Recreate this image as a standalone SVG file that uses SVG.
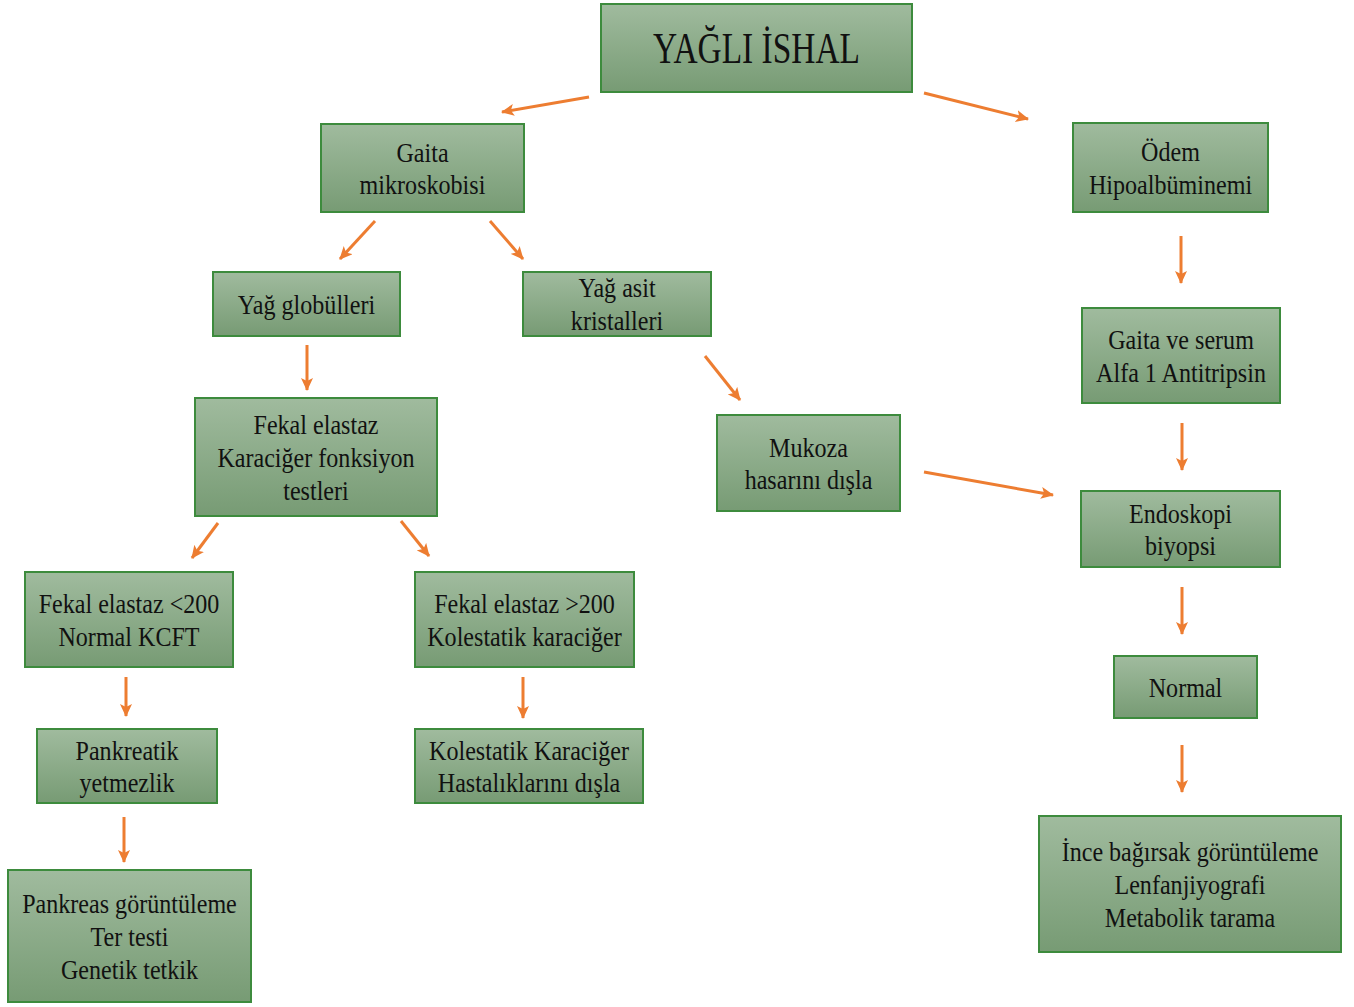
<svg xmlns="http://www.w3.org/2000/svg" width="1354" height="1007" viewBox="0 0 1354 1007">
<style>
.box{fill:url(#g);stroke:#3d8b3d;stroke-width:2}
text{font-family:"Liberation Serif","Times New Roman",serif;font-size:28px;fill:#111;text-anchor:middle}
.t{font-size:44px}
.c line{stroke:#ed7d31;stroke-width:3;marker-end:url(#ah)}
</style>
<defs>
<linearGradient id="g" x1="0" y1="0" x2="0" y2="1">
<stop offset="0" stop-color="#a0bb9e"/>
<stop offset="1" stop-color="#779b74"/>
</linearGradient>
<marker id="ah" markerUnits="userSpaceOnUse" markerWidth="14" markerHeight="12" refX="12" refY="6" orient="auto">
<path d="M0,0 L13,6 L0,12 L3,6 z" fill="#ed7d31"/>
</marker>
</defs>
<rect width="1354" height="1007" fill="#fff"/>
<g class="c" id="connectors">
<line x1="589" y1="97" x2="502" y2="112"/>
<line x1="924" y1="93" x2="1028" y2="119"/>
<line x1="375" y1="221" x2="340" y2="259"/>
<line x1="490" y1="221" x2="523" y2="259"/>
<line x1="307" y1="345" x2="307" y2="390"/>
<line x1="705" y1="356" x2="740" y2="400"/>
<line x1="924" y1="472" x2="1053" y2="495"/>
<line x1="1181" y1="236" x2="1181" y2="283"/>
<line x1="1182" y1="423" x2="1182" y2="470"/>
<line x1="1182" y1="587" x2="1182" y2="634"/>
<line x1="1182" y1="745" x2="1182" y2="792"/>
<line x1="218" y1="523" x2="192" y2="558"/>
<line x1="401" y1="521" x2="429" y2="556"/>
<line x1="126" y1="677" x2="126" y2="716"/>
<line x1="523" y1="677" x2="523" y2="718"/>
<line x1="124" y1="817" x2="124" y2="862"/>
</g>
<g id="n1"><rect class="box" x="601" y="4" width="311" height="88"/>
<text class="t" transform="translate(756.5 63) scale(0.76 1)" x="0" y="0">YAĞLI İSHAL</text></g>
<g id="n2"><rect class="box" x="321" y="124" width="203" height="88"/>
<text transform="translate(422.5 161.5) scale(0.86 1)"><tspan x="0" y="0">Gaita</tspan><tspan x="0" y="33">mikroskobisi</tspan></text></g>
<g id="n3"><rect class="box" x="1073" y="123" width="195" height="89"/>
<text transform="translate(1170.5 161) scale(0.86 1)"><tspan x="0" y="0">Ödem</tspan><tspan x="0" y="33">Hipoalbüminemi</tspan></text></g>
<g id="n4"><rect class="box" x="213" y="272" width="187" height="64"/>
<text transform="translate(306.5 314) scale(0.86 1)" x="0" y="0">Yağ globülleri</text></g>
<g id="n5"><rect class="box" x="523" y="272" width="188" height="64"/>
<text transform="translate(617 297) scale(0.86 1)"><tspan x="0" y="0">Yağ asit</tspan><tspan x="0" y="33">kristalleri</tspan></text></g>
<g id="n6"><rect class="box" x="195" y="398" width="242" height="118"/>
<text transform="translate(316 434) scale(0.86 1)"><tspan x="0" y="0">Fekal elastaz</tspan><tspan x="0" y="33">Karaciğer fonksiyon</tspan><tspan x="0" y="66">testleri</tspan></text></g>
<g id="n7"><rect class="box" x="717" y="415" width="183" height="96"/>
<text transform="translate(808.5 456.5) scale(0.86 1)"><tspan x="0" y="0">Mukoza</tspan><tspan x="0" y="33">hasarını dışla</tspan></text></g>
<g id="n8"><rect class="box" x="1082" y="308" width="198" height="95"/>
<text transform="translate(1181 349) scale(0.86 1)"><tspan x="0" y="0">Gaita ve serum</tspan><tspan x="0" y="33">Alfa 1 Antitripsin</tspan></text></g>
<g id="n9"><rect class="box" x="1081" y="491" width="199" height="76"/>
<text transform="translate(1180.5 522.5) scale(0.86 1)"><tspan x="0" y="0">Endoskopi</tspan><tspan x="0" y="33">biyopsi</tspan></text></g>
<g id="n10"><rect class="box" x="1114" y="656" width="143" height="62"/>
<text transform="translate(1185.5 697) scale(0.86 1)" x="0" y="0">Normal</text></g>
<g id="n11"><rect class="box" x="1039" y="816" width="302" height="136"/>
<text transform="translate(1190 861) scale(0.86 1)"><tspan x="0" y="0">İnce bağırsak görüntüleme</tspan><tspan x="0" y="33">Lenfanjiyografi</tspan><tspan x="0" y="66">Metabolik tarama</tspan></text></g>
<g id="n12"><rect class="box" x="25" y="572" width="208" height="95"/>
<text transform="translate(129 613) scale(0.86 1)"><tspan x="0" y="0">Fekal elastaz &lt;200</tspan><tspan x="0" y="33">Normal KCFT</tspan></text></g>
<g id="n13"><rect class="box" x="415" y="572" width="219" height="95"/>
<text transform="translate(524.5 613) scale(0.86 1)"><tspan x="0" y="0">Fekal elastaz &gt;200</tspan><tspan x="0" y="33">Kolestatik karaciğer</tspan></text></g>
<g id="n14"><rect class="box" x="37" y="729" width="180" height="74"/>
<text transform="translate(127 759.5) scale(0.86 1)"><tspan x="0" y="0">Pankreatik</tspan><tspan x="0" y="33">yetmezlik</tspan></text></g>
<g id="n15"><rect class="box" x="415" y="729" width="228" height="74"/>
<text transform="translate(529 759.5) scale(0.86 1)"><tspan x="0" y="0">Kolestatik Karaciğer</tspan><tspan x="0" y="33">Hastalıklarını dışla</tspan></text></g>
<g id="n16"><rect class="box" x="8" y="870" width="243" height="132"/>
<text transform="translate(129.5 913) scale(0.86 1)"><tspan x="0" y="0">Pankreas görüntüleme</tspan><tspan x="0" y="33">Ter testi</tspan><tspan x="0" y="66">Genetik tetkik</tspan></text></g>
</svg>
